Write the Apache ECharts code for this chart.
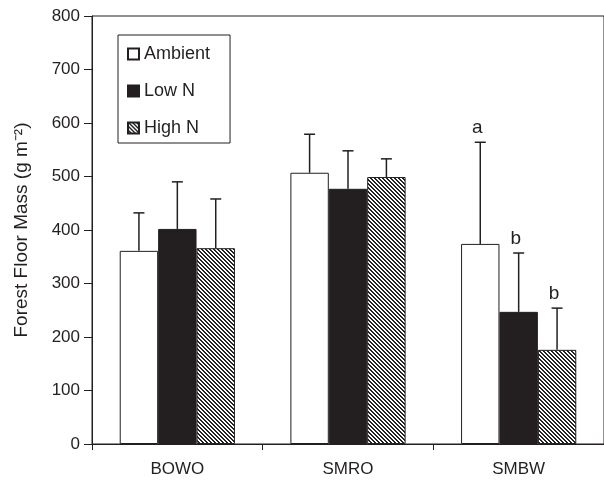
<!DOCTYPE html>
<html>
<head>
<meta charset="utf-8">
<script src="https://cdn.jsdelivr.net/npm/echarts@6/dist/echarts.min.js"></script>
<style>
  html, body { margin: 0; padding: 0; background: #fff; }
  #chart { width: 604px; height: 487px; }
</style>
</head>
<body>
<div id="chart"></div>
<script>
var sites = ['BOWO', 'SMRO', 'SMBW'];
var treatments = ['Ambient', 'Low N', 'High N'];
var ambientMass = [361, 507, 374];
var lowNMass = [402, 477, 247];
var highNMass = [366, 499, 176];
var ambientErr = [71, 72, 190];
var lowNErr = [88, 71, 110];
var highNErr = [92, 34, 78];
var sigLetters = [['', '', ''], ['', '', ''], ['a', 'b', 'b']];
var yTicks = [0, 100, 200, 300, 400, 500, 600, 700, 800];

var masses = [ambientMass, lowNMass, highNMass];
var errs = [ambientErr, lowNErr, highNErr];
var ink = '#231f20';
var barFrac = 0.225;

// diagonal hatch tile, stripes running top-left to bottom-right
function hatchTile() {
    var c = document.createElement('canvas');
    c.width = 4; c.height = 4;
    var ctx = c.getContext('2d');
    var img = ctx.createImageData(4, 4);
    for (var y = 0; y < 4; y++) {
        for (var x = 0; x < 4; x++) {
            var k = (y * 4 + x) * 4;
            var dark = ((x - y + 8) % 4) < 2;
            var v = dark ? 35 : 255;
            img.data[k] = v; img.data[k + 1] = v; img.data[k + 2] = v; img.data[k + 3] = 255;
        }
    }
    ctx.putImageData(img, 0, 0);
    return c;
}

var fills = ['#ffffff', ink, { image: hatchTile(), repeat: 'repeat' }];

var series = treatments.map(function (t, i) {
    return {
        name: t,
        type: 'bar',
        barWidth: (barFrac * 100) + '%',
        barGap: '0%',
        itemStyle: { color: fills[i], borderColor: ink, borderWidth: 1 },
        data: masses[i]
    };
});

// upper error bars + significance letters
var errData = [];
for (var s = 0; s < 3; s++) {
    for (var g = 0; g < sites.length; g++) {
        errData.push([g, masses[s][g], masses[s][g] + errs[s][g], s, sigLetters[g][s]]);
    }
}

series.push({
    type: 'custom',
    name: 'err',
    silent: true,
    z: 5,
    renderItem: function (params, api) {
        var g = api.value(0);
        var s = api.value(3);
        var band = api.size([1, 0])[0];
        var base = api.coord([g, api.value(1)]);
        var top = api.coord([g, api.value(2)]);
        var x = base[0] + (s - 1) * band * barFrac;
        var children = [
            { type: 'line', shape: { x1: x, y1: base[1], x2: x, y2: top[1] }, style: { stroke: ink, lineWidth: 1.5 } },
            { type: 'line', shape: { x1: x - 5.5, y1: top[1], x2: x + 5.5, y2: top[1] }, style: { stroke: ink, lineWidth: 1.5 } }
        ];
        var letter = errData[params.dataIndex][4];
        if (letter) {
            children.push({
                type: 'text',
                style: {
                    text: letter, x: x - 3, y: top[1] - 5,
                    align: 'center', verticalAlign: 'bottom',
                    fontFamily: 'Liberation Sans', fontSize: 19, fill: ink
                }
            });
        }
        return { type: 'group', children: children };
    },
    encode: { x: 0, y: 2 },
    data: errData
});

var chart = echarts.init(document.getElementById('chart'), null, { renderer: 'canvas' });
chart.setOption({
    animation: false,
    backgroundColor: '#fff',
    textStyle: { fontFamily: 'Liberation Sans', color: ink },
    grid: {
        left: 92, right: -6, top: 16, bottom: 43,
        show: true, borderColor: ink, borderWidth: 1
    },
    legend: {
        data: treatments,
        orient: 'vertical',
        left: 118, top: 35,
        icon: 'rect',
        itemWidth: 11, itemHeight: 11,
        itemGap: 19,
        padding: [10, 20, 6, 9],
        borderColor: ink, borderWidth: 1,
        textStyle: { fontSize: 18, lineHeight: 18, color: ink, fontFamily: 'Liberation Sans' }
    },
    xAxis: {
        type: 'category',
        data: sites,
        axisLine: { lineStyle: { color: ink, width: 1 } },
        axisTick: { show: true, length: 6, lineStyle: { color: ink } },
        axisLabel: { fontSize: 17, color: ink, margin: 17 }
    },
    yAxis: {
        type: 'value',
        min: yTicks[0], max: yTicks[yTicks.length - 1], interval: yTicks[1] - yTicks[0],
        name: 'Forest Floor Mass (g m\u207B\u00B2)',
        nameLocation: 'middle',
        nameGap: 61,
        nameTextStyle: { fontSize: 19, color: ink },
        axisLine: { show: true, lineStyle: { color: ink, width: 1 } },
        axisTick: { show: true, length: 8, lineStyle: { color: ink } },
        axisLabel: { fontSize: 17, color: ink, margin: 12 },
        splitLine: { show: false }
    },
    series: series
});
</script>
</body>
</html>
